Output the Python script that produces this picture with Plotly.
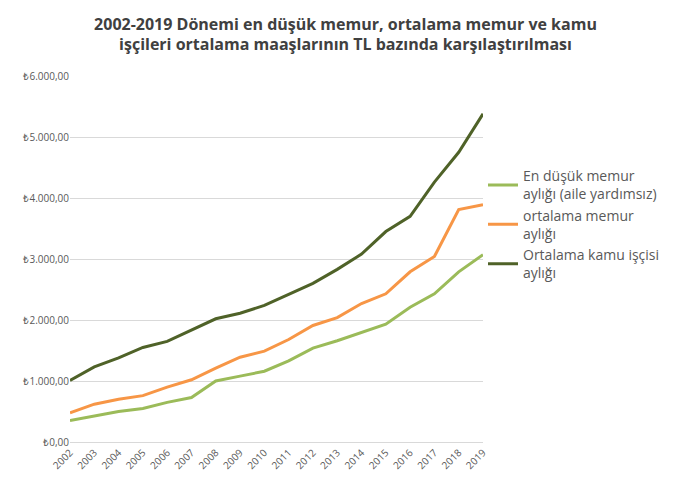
import plotly.graph_objects as go

years = [str(y) for y in range(2002, 2020)]
en_dusuk = [350, 430, 500, 550, 650, 730, 1000, 1080, 1160, 1330, 1540, 1660, 1790, 1930, 2210, 2430, 2790, 3070]
ortalama = [480, 620, 700, 760, 900, 1020, 1210, 1390, 1490, 1680, 1910, 2040, 2270, 2430, 2790, 3040, 3810, 3890]
kamu = [1010, 1230, 1380, 1550, 1650, 1830, 2020, 2110, 2240, 2420, 2600, 2830, 3080, 3450, 3700, 4260, 4750, 5380]
names = ["En düşük memur<br>aylığı (aile yardımsız)", "ortalama memur<br>aylığı", "Ortalama kamu işçisi<br>aylığı"]
colors = ["#9BBB59", "#F79646", "#4F6228"]

fig = go.Figure()
for n, v, c in zip(names, [en_dusuk, ortalama, kamu], colors):
    fig.add_trace(go.Scatter(x=years, y=v, name=n, mode="lines", line=dict(color=c, width=3)))

fig.update_layout(
    width=675, height=480, paper_bgcolor="white", plot_bgcolor="white",
    font=dict(family="Open Sans, Liberation Sans, sans-serif", color="#595959"),
    separators=",.",
    title=dict(text="<b>2002-2019 Dönemi en düşük memur, ortalama memur ve kamu<br>işçileri ortalama maaşlarının TL bazında karşılaştırılması</b>",
               x=0.5, xanchor="center", y=0.955, font=dict(size=16, color="#404040")),
    margin=dict(l=62, r=200, t=68, b=46),
    xaxis=dict(tickangle=-45, tickfont=dict(size=10), showgrid=False, showline=True,
               linecolor="#D9D9D9", ticks=""),
    yaxis=dict(range=[0, 6000], dtick=1000, tickprefix="₺", tickformat=",.2f",
               tickfont=dict(size=10), gridcolor="#D9D9D9", zeroline=False),
    legend=dict(x=1.0, y=0.77, xanchor="left", yanchor="top", tracegroupgap=40,
                font=dict(size=14, color="#595959"), itemwidth=30),
)
fig.write_html("out.html")
